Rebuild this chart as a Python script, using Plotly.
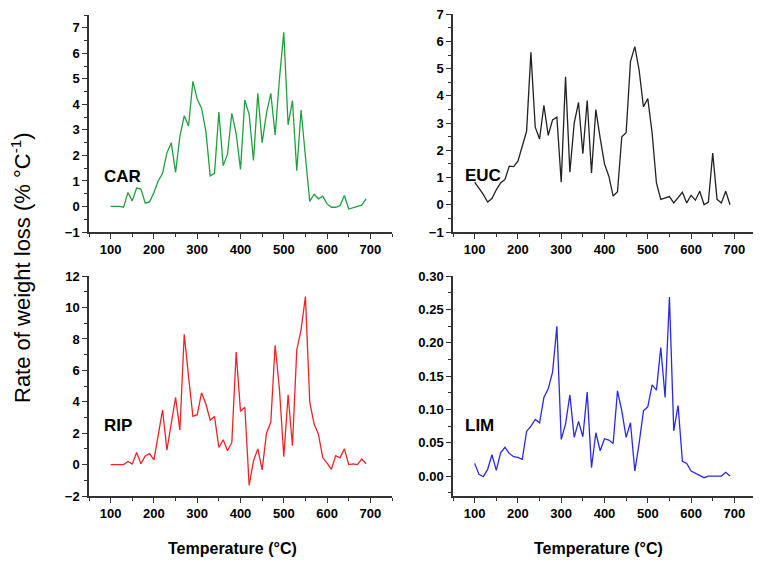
import plotly.graph_objects as go

temps = list(range(100, 700, 10))

car = [0, 0, 0, -0.03, 0.55, 0.22, 0.72, 0.68, 0.13, 0.18,
       0.55, 1.0, 1.3, 2.1, 2.5, 1.33, 2.75, 3.55, 3.15, 4.9,
       4.2, 3.85, 2.95, 1.2, 1.3, 3.7, 1.6, 2.05, 3.65, 2.85,
       1.45, 4.17, 3.6, 1.8, 4.43, 2.5, 3.65, 4.43, 2.8, 5.0,
       6.82, 3.2, 4.15, 1.4, 3.78, 1.95, 0.2, 0.48, 0.3, 0.4,
       0.1, -0.03, -0.03, 0.03, 0.43, -0.1, -0.05, 0.02, 0.05, 0.3]

euc = [0.83, 0.6, 0.38, 0.1, 0.23, 0.55, 0.8, 0.93, 1.42, 1.4,
       1.6, 2.15, 2.7, 5.6, 2.85, 2.42, 3.65, 2.55, 3.12, 3.22,
       0.83, 4.7, 1.2, 3.0, 3.76, 1.88, 3.83, 1.17, 3.5, 2.45,
       1.5, 1.05, 0.32, 0.48, 2.5, 2.65, 5.26, 5.81, 4.95, 3.6,
       3.9, 2.64, 0.8, 0.2, 0.25, 0.3, 0.07, 0.26, 0.46, 0.07,
       0.35, 0.17, 0.5, 0.0, 0.1, 1.9, 0.2, 0.07, 0.5, 0.0]

rip = [0, 0, 0, 0, 0.2, 0.03, 0.77, 0.06, 0.55, 0.7,
       0.3, 1.9, 3.48, 0.92, 2.58, 4.28, 2.2, 8.3, 5.6, 3.07,
       3.18, 4.57, 3.86, 2.84, 3.07, 1.09, 1.58, 0.88, 1.41, 7.17,
       3.39, 3.65, -1.32, 0.24, 1.0, -0.34, 2.0, 2.69, 7.6, 4.8,
       0.5, 4.45, 1.2, 7.3, 8.6, 10.7, 3.97, 2.58, 1.94, 0.45,
       0.1, -0.3, 0.57, 0.43, 1.0, 0.0, 0.05, 0.0, 0.35, 0.05]

lim = [0.019, 0.0025, -0.001, 0.01, 0.032, 0.0085, 0.035, 0.043, 0.034, 0.029,
       0.028, 0.025, 0.067, 0.075, 0.085, 0.08, 0.118, 0.131, 0.156, 0.225,
       0.055, 0.078, 0.122, 0.058, 0.082, 0.059, 0.126, 0.0126, 0.065, 0.038,
       0.056, 0.054, 0.049, 0.128, 0.098, 0.058, 0.08, 0.0075, 0.049, 0.098,
       0.104, 0.137, 0.129, 0.193, 0.118, 0.269, 0.068, 0.106, 0.022, 0.019,
       0.0075, 0.004, 0.0015, -0.0025, 0.0, 0.0, 0.0, 0.0, 0.0055, 0.0]

names = ["CAR", "EUC", "RIP", "LIM"]
colors = ["#20a040", "#222222", "#e8262a", "#2a2ae0"]
series = [car, euc, rip, lim]

# page body has an 8px margin, so the figure is drawn 8px in from the corner
OFF = 8
W, H = 761 - OFF, 561 - OFF


def fx(px):
    return (px - OFF) / W


def fy(py):
    return 1 - (py - OFF) / H


xdom_left = [fx(89), fx(392)]
xdom_right = [fx(453), fx(756)]
ydom_top = [fy(232), fy(15)]
ydom_top2 = [fy(232), fy(14)]
ydom_bot = [fy(496), fy(276)]

fig = go.Figure()
for i, (nm, c, s) in enumerate(zip(names, colors, series)):
    sfx = "" if i == 0 else str(i + 1)
    fig.add_trace(go.Scatter(x=temps, y=s, mode="lines", name=nm,
                             line=dict(color=c, width=1.3),
                             xaxis="x" + sfx, yaxis="y" + sfx,
                             showlegend=False))

tickfont = dict(family="Liberation Sans, Arial", size=13, color="black", weight="bold")
axcommon = dict(showline=True, linecolor="#333333", linewidth=1.5, showgrid=False,
                zeroline=False, ticks="outside", ticklen=5, tickwidth=1.2,
                tickcolor="#333333", tickfont=tickfont, automargin=False,
                ticklabeloverflow="allow")


def xax(dom, anchor):
    return dict(domain=dom, anchor=anchor, range=[50, 750], tick0=0, dtick=100,
                minor=dict(dtick=50, ticks="outside", ticklen=3, tickcolor="#333333"),
                **axcommon)


def yax(dom, anchor, rng, dtick, mdt, fmt=None):
    d = dict(domain=dom, anchor=anchor, range=rng, tick0=0, dtick=dtick,
             minor=dict(dtick=mdt, ticks="outside", ticklen=3, tickcolor="#333333"),
             **axcommon)
    if fmt:
        d["tickformat"] = fmt
    return d


fig.update_layout(
    width=W, height=H,
    margin=dict(l=0, r=0, t=0, b=0),
    paper_bgcolor="white", plot_bgcolor="white",
    xaxis=xax(xdom_left, "y"),
    yaxis=yax(ydom_top, "x", [-1, 7.5], 1, 0.5),
    xaxis2=xax(xdom_right, "y2"),
    yaxis2=yax(ydom_top2, "x2", [-1, 7.01], 1, 0.5),
    xaxis3=xax(xdom_left, "y3"),
    yaxis3=yax(ydom_bot, "x3", [-2, 12.01], 2, 1),
    xaxis4=xax(xdom_right, "y4"),
    yaxis4=yax(ydom_bot, "x4", [-0.03, 0.3005], 0.05, 0.025, ".2f"),
)

lab_font = dict(family="Liberation Sans, Arial", size=17, color="black", weight="bold")
label_pos = [(102, 176.5), (463, 175), (102, 425), (463, 425)]
for nm, (px, py) in zip(names, label_pos):
    fig.add_annotation(text=nm, x=fx(px), y=fy(py), xref="paper", yref="paper",
                       xanchor="left", yanchor="middle", showarrow=False, font=lab_font)

title_font = dict(family="Liberation Sans, Arial", size=16, color="black", weight="bold")
for cx in [(89 + 392) / 2 - 8, (453 + 756) / 2 - 6]:
    fig.add_annotation(text="Temperature (°C)", x=fx(cx), y=fy(548),
                       xref="paper", yref="paper", xanchor="center", yanchor="middle",
                       showarrow=False, font=title_font)

fig.add_annotation(text="Rate of weight loss (% °C<sup>-1</sup>)", x=fx(21), y=fy(268),
                   xref="paper", yref="paper", xanchor="center", yanchor="middle",
                   textangle=-90, showarrow=False,
                   font=dict(family="Liberation Sans, Arial", size=22, color="black"))

fig.write_html("out.html")
